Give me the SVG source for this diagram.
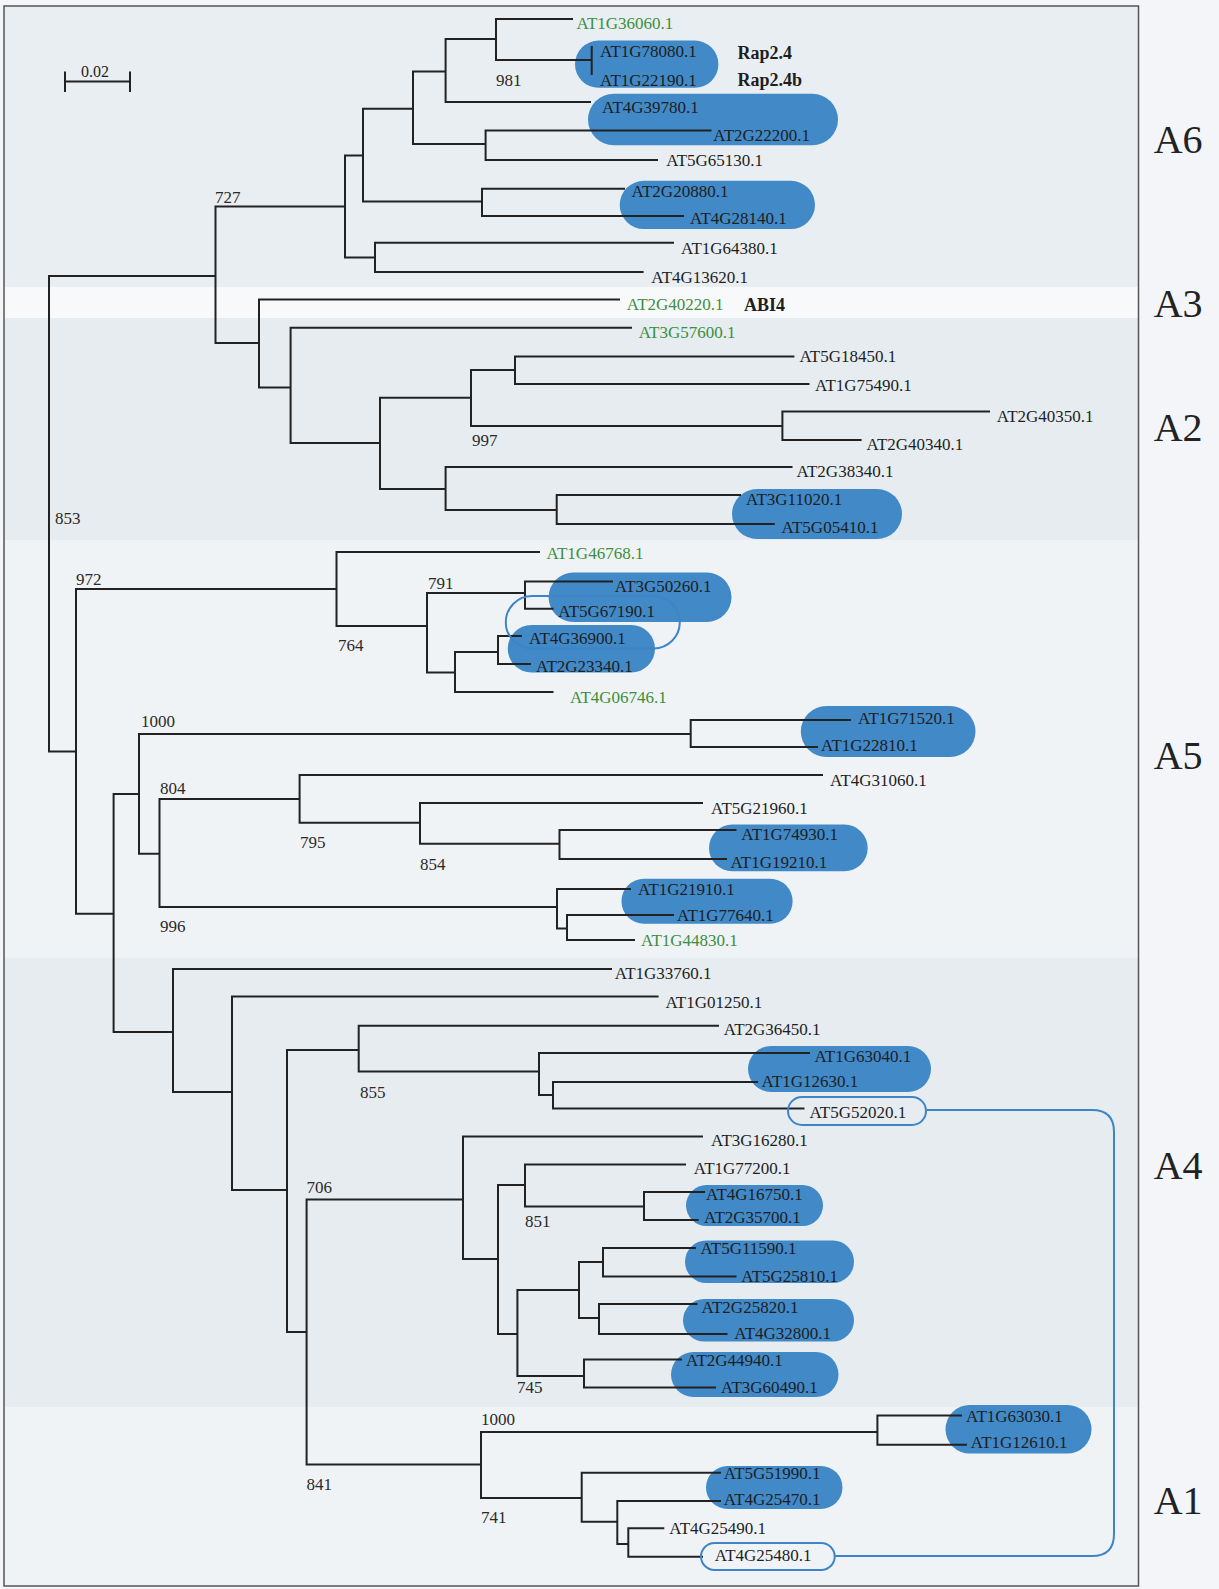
<svg xmlns="http://www.w3.org/2000/svg" width="1219" height="1589" viewBox="0 0 1219 1589">
<style>
text{font-family:"Liberation Serif","Times New Roman",serif;font-size:17px;fill:#1e1e1e}
.g{fill:#3c8f3c}
.b{font-weight:bold;font-size:18px}
.bs{font-size:17px;fill:#2a2a2a}
.cl{font-size:40px;fill:#222}
.pill{fill:#4189c7}
.ring{fill:none;stroke:#3d85c6;stroke-width:2}
.tree{fill:none;stroke:#222;stroke-width:2;stroke-linecap:square}
</style>
<g id="background">
<rect x="0" y="0" width="1219" height="1589" fill="#f3f5f8"/>
<rect x="4" y="6" width="1134.5" height="1580" fill="#f0f3f6"/>
<rect x="4" y="6" width="1134.5" height="281" fill="#e9eef2"/>
<rect x="4" y="287" width="1134.5" height="31" fill="#f8f9fb"/>
<rect x="4" y="318" width="1134.5" height="222" fill="#e6ecf0"/>
<rect x="4" y="958" width="1134.5" height="449" fill="#e6ecf0"/>
<rect x="4" y="6" width="1134.5" height="1580" fill="none" stroke="#555" stroke-width="1.5"/>
</g>
<g id="highlights">
<rect class="pill" x="575" y="40.6" width="143.4" height="47.2" rx="23.6"/>
<rect class="pill" x="588" y="93.7" width="250" height="51.6" rx="25.8"/>
<rect class="pill" x="619.7" y="180.8" width="195.3" height="48.2" rx="24.1"/>
<rect class="pill" x="732" y="489" width="170" height="50" rx="25"/>
<rect class="pill" x="548.6" y="572.5" width="182.9" height="49.5" rx="24.7"/>
<rect class="pill" x="507.7" y="625" width="147.3" height="47.5" rx="23.7"/>
<rect class="pill" x="800.8" y="706" width="174.7" height="51" rx="25.5"/>
<rect class="pill" x="709" y="824.6" width="158.7" height="46.7" rx="23.3"/>
<rect class="pill" x="621.5" y="878.7" width="171.1" height="45.1" rx="22.5"/>
<rect class="pill" x="748" y="1046" width="183" height="46" rx="23"/>
<rect class="pill" x="686" y="1185" width="137" height="41" rx="20.5"/>
<rect class="pill" x="685" y="1240.5" width="169" height="42.5" rx="21.2"/>
<rect class="pill" x="683" y="1299" width="171" height="42.6" rx="21.3"/>
<rect class="pill" x="671" y="1352" width="167.5" height="45" rx="22.5"/>
<rect class="pill" x="945.5" y="1405" width="146" height="48.6" rx="24.3"/>
<rect class="pill" x="706" y="1466" width="136.5" height="43" rx="21.5"/>
</g>
<g id="connectors">
<path class="tree" d="M49 276V751.5M49 276H215.5M49 751.5H76
M215.5 206.6V343M215.5 206.6H345M215.5 343H259
M345 155.6V257.6M345 155.6H363M345 257.6H375
M363 108.8V201.4M363 108.8H413M363 201.4H482
M413 71.6V144M413 71.6H445.6M413 144H485.6
M445.6 38.9V102M445.6 38.9H496M445.6 102H590
M496 19V60M496 19H572M496 60H591.7
M591.7 47V74
M485.6 130.5V160M485.6 130.5H710.5M485.6 160H657
M482 188.7V216M482 188.7H624M482 216H683
M375 242.8V272M375 242.8H673M375 272H642.6
M259 299.6V387.4M259 299.6H619M259 387.4H290.6
M290.6 327.8V443M290.6 327.8H631M290.6 443H380
M380 397.7V489M380 397.7H471M380 489H445.6
M471 370V426M471 370H515M471 426H782.4
M515 356.4V384M515 356.4H793.4M515 384H808.5
M782.4 411.5V440M782.4 411.5H989M782.4 440H860.6
M445.6 467V510M445.6 467H791.5M445.6 510H556.7
M556.7 495V524M556.7 495H740M556.7 524H773.7
M76 589V913.7M76 589H336.5M76 913.7H113.6
M336.5 552V626M336.5 552H539M336.5 626H427
M427 593V672.5M427 593H525M427 672.5H455
M525 581.5V608.7M525 581.5H612M525 608.7H552.5
M455 652V692M455 652H498M455 692H552.5
M498 636V664M498 636H521M498 664H530
M113.6 794V1032M113.6 794H139M113.6 1032H173
M139 734V853.8M139 734H690.7M139 853.8H159.5
M690.7 720V747M690.7 720H850M690.7 747H817
M159.5 799V907M159.5 799H299.6M159.5 907H557
M299.6 775V822.7M299.6 775H822M299.6 822.7H420
M420 803V843.7M420 803H702M420 843.7H559.5
M559.5 830V859M559.5 830H735.5M559.5 859H726
M557 889V928.5M557 889H630M557 928.5H567
M567 915V940M567 915H673M567 940H634
M173 969V1092M173 969H611M173 1092H232
M232 996.6V1190M232 996.6H657.6M232 1190H287
M287 1050V1332M287 1050H358.7M287 1332H306.6
M358.7 1025.7V1071.6M358.7 1025.7H718M358.7 1071.6H539
M539 1053V1095M539 1053H809M539 1095H553
M553 1082V1108.5M553 1082H757M553 1108.5H803.5
M306.6 1199.6V1464.5M306.6 1199.6H463M306.6 1464.5H481
M463 1136.6V1259M463 1136.6H702M463 1259H498
M498 1185V1334M498 1185H525M498 1334H517.4
M525 1164.6V1206.6M525 1164.6H685M525 1206.6H644
M644 1192V1220M644 1192H704M644 1220H697.7
M517.4 1290V1376M517.4 1290H579M517.4 1376H584
M579 1262V1318M579 1262H603M579 1318H599
M603 1248V1276.6M603 1248H695M603 1276.6H735.5
M599 1304V1334M599 1304H696.5M599 1334H726.5
M584 1359.5V1387.5M584 1359.5H681M584 1387.5H715
M481 1432V1498M481 1432H877.4M481 1498H581.7
M877.4 1415.5V1444.7M877.4 1415.5H961M877.4 1444.7H966
M581.7 1472.7V1521.7M581.7 1472.7H720M581.7 1521.7H617.3
M617.3 1501V1544M617.3 1501H720M617.3 1544H628.3
M628.3 1528.3V1556.7M628.3 1528.3H663.3M628.3 1556.7H702"/>
<path id="link-AT5G52020-AT4G25480" class="ring" d="M926 1110H1092Q1114 1110 1114 1132V1534Q1114 1556 1092 1556H834.7"/>
</g>
<g id="scale-bar">
<path class="tree" d="M65 81.5H130M65 72.5V91M130 72.5V91"/>
<text x="81" y="77" style="font-size:16px">0.02</text>
</g>
<g id="rings">
<rect class="ring" x="505.8" y="596" width="174" height="52.4" rx="26.2"/>
<rect id="ring-AT5G52020" class="ring" x="788" y="1097" width="138" height="28" rx="14"/>
<rect id="ring-AT4G25480" class="ring" x="701" y="1543" width="133.7" height="27" rx="13.5"/>
</g>
<g id="leaf-AT1G36060"><text class="g" x="576.5" y="29">AT1G36060.1</text></g>
<g id="leaf-AT1G78080"><text x="600" y="57.3">AT1G78080.1</text><text class="b" x="737.4" y="58.5">Rap2.4</text></g>
<g id="leaf-AT1G22190"><text x="600" y="85.5">AT1G22190.1</text><text class="b" x="737.4" y="86">Rap2.4b</text></g>
<g id="leaf-AT4G39780"><text x="602" y="113.4">AT4G39780.1</text></g>
<g id="leaf-AT2G22200"><text x="713.3" y="140.6">AT2G22200.1</text></g>
<g id="leaf-AT5G65130"><text x="666.3" y="165.7">AT5G65130.1</text></g>
<g id="leaf-AT2G20880"><text x="631.6" y="196.7">AT2G20880.1</text></g>
<g id="leaf-AT4G28140"><text x="690" y="224.3">AT4G28140.1</text></g>
<g id="leaf-AT1G64380"><text x="681" y="253.6">AT1G64380.1</text></g>
<g id="leaf-AT4G13620"><text x="651.3" y="282.8">AT4G13620.1</text></g>
<g id="leaf-AT2G40220"><text class="g" x="626.8" y="310.4">AT2G40220.1</text><text class="b" x="744" y="311">ABI4</text></g>
<g id="leaf-AT3G57600"><text class="g" x="638.7" y="338">AT3G57600.1</text></g>
<g id="leaf-AT5G18450"><text x="799.4" y="362">AT5G18450.1</text></g>
<g id="leaf-AT1G75490"><text x="815" y="390.6">AT1G75490.1</text></g>
<g id="leaf-AT2G40350"><text x="996.8" y="422.3">AT2G40350.1</text></g>
<g id="leaf-AT2G40340"><text x="866.5" y="449.8">AT2G40340.1</text></g>
<g id="leaf-AT2G38340"><text x="796.6" y="477.4">AT2G38340.1</text></g>
<g id="leaf-AT3G11020"><text x="746" y="505">AT3G11020.1</text></g>
<g id="leaf-AT5G05410"><text x="781.6" y="532.5">AT5G05410.1</text></g>
<g id="leaf-AT1G46768"><text class="g" x="546.6" y="558.6">AT1G46768.1</text></g>
<g id="leaf-AT3G50260"><text x="614.8" y="591.6">AT3G50260.1</text></g>
<g id="leaf-AT5G67190"><text x="558.3" y="617">AT5G67190.1</text></g>
<g id="leaf-AT4G36900"><text x="529" y="643.6">AT4G36900.1</text></g>
<g id="leaf-AT2G23340"><text x="536" y="671.6">AT2G23340.1</text></g>
<g id="leaf-AT4G06746"><text class="g" x="570" y="702.6">AT4G06746.1</text></g>
<g id="leaf-AT1G71520"><text x="858" y="724">AT1G71520.1</text></g>
<g id="leaf-AT1G22810"><text x="821" y="751.2">AT1G22810.1</text></g>
<g id="leaf-AT4G31060"><text x="830" y="785.6">AT4G31060.1</text></g>
<g id="leaf-AT5G21960"><text x="711" y="813.6">AT5G21960.1</text></g>
<g id="leaf-AT1G74930"><text x="741.3" y="840">AT1G74930.1</text></g>
<g id="leaf-AT1G19210"><text x="730.4" y="868">AT1G19210.1</text></g>
<g id="leaf-AT1G21910"><text x="638" y="895.2">AT1G21910.1</text></g>
<g id="leaf-AT1G77640"><text x="677" y="921.2">AT1G77640.1</text></g>
<g id="leaf-AT1G44830"><text class="g" x="641" y="945.6">AT1G44830.1</text></g>
<g id="leaf-AT1G33760"><text x="614.8" y="978.8">AT1G33760.1</text></g>
<g id="leaf-AT1G01250"><text x="665.4" y="1008">AT1G01250.1</text></g>
<g id="leaf-AT2G36450"><text x="723.8" y="1035">AT2G36450.1</text></g>
<g id="leaf-AT1G63040"><text x="814.4" y="1061.6">AT1G63040.1</text></g>
<g id="leaf-AT1G12630"><text x="761.5" y="1086.6">AT1G12630.1</text></g>
<g id="leaf-AT5G52020"><text x="809.4" y="1117.6">AT5G52020.1</text></g>
<g id="leaf-AT3G16280"><text x="711" y="1146">AT3G16280.1</text></g>
<g id="leaf-AT1G77200"><text x="693.8" y="1174.4">AT1G77200.1</text></g>
<g id="leaf-AT4G16750"><text x="706" y="1199.6">AT4G16750.1</text></g>
<g id="leaf-AT2G35700"><text x="704" y="1222.6">AT2G35700.1</text></g>
<g id="leaf-AT5G11590"><text x="700.4" y="1253.6">AT5G11590.1</text></g>
<g id="leaf-AT5G25810"><text x="741.3" y="1282.2">AT5G25810.1</text></g>
<g id="leaf-AT2G25820"><text x="701.6" y="1313.3">AT2G25820.1</text></g>
<g id="leaf-AT4G32800"><text x="734.3" y="1339.4">AT4G32800.1</text></g>
<g id="leaf-AT2G44940"><text x="686" y="1366">AT2G44940.1</text></g>
<g id="leaf-AT3G60490"><text x="721" y="1393">AT3G60490.1</text></g>
<g id="leaf-AT1G63030"><text x="966" y="1422.3">AT1G63030.1</text></g>
<g id="leaf-AT1G12610"><text x="970.8" y="1448.3">AT1G12610.1</text></g>
<g id="leaf-AT5G51990"><text x="723.8" y="1479.4">AT5G51990.1</text></g>
<g id="leaf-AT4G25470"><text x="723.8" y="1504.6">AT4G25470.1</text></g>
<g id="leaf-AT4G25490"><text x="669.3" y="1534">AT4G25490.1</text></g>
<g id="leaf-AT4G25480"><text x="714.8" y="1561.2">AT4G25480.1</text></g>
<g id="bootstrap">
<text class="bs" x="496" y="85.6">981</text>
<text class="bs" x="215" y="202.6">727</text>
<text class="bs" x="472" y="445.6">997</text>
<text class="bs" x="55" y="523.6">853</text>
<text class="bs" x="76" y="584.6">972</text>
<text class="bs" x="428" y="588.6">791</text>
<text class="bs" x="338" y="651.3">764</text>
<text class="bs" x="141" y="726.6">1000</text>
<text class="bs" x="160" y="794">804</text>
<text class="bs" x="300" y="847.6">795</text>
<text class="bs" x="420" y="870">854</text>
<text class="bs" x="160" y="932">996</text>
<text class="bs" x="360" y="1098.2">855</text>
<text class="bs" x="306.6" y="1192.8">706</text>
<text class="bs" x="525" y="1226.6">851</text>
<text class="bs" x="517" y="1393">745</text>
<text class="bs" x="481" y="1425">1000</text>
<text class="bs" x="306.6" y="1490.3">841</text>
<text class="bs" x="481" y="1523.4">741</text>
</g>
<g id="clades">
<text class="cl" x="1153.7" y="153">A6</text>
<text class="cl" x="1153.7" y="317">A3</text>
<text class="cl" x="1153.7" y="441">A2</text>
<text class="cl" x="1153.7" y="769">A5</text>
<text class="cl" x="1153.7" y="1179">A4</text>
<text class="cl" x="1153.7" y="1514">A1</text>
</g>
</svg>
